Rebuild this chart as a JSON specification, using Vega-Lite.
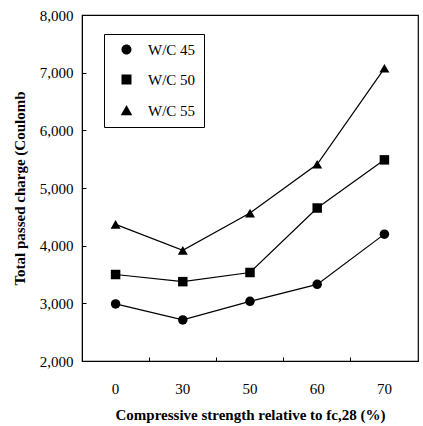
{
  "$schema": "https://vega.github.io/schema/vega-lite/v6.json",
  "autosize": "none",
  "width": 336,
  "height": 346,
  "padding": {"left": 82, "top": 15, "right": 5, "bottom": 65},
  "background": "white",
  "config": {
    "font": "Liberation Serif",
    "view": {"stroke": "black", "strokeWidth": 1.2},
    "axis": {"domainColor": "black", "tickColor": "black", "labelColor": "black", "titleColor": "black", "labelFont": "Liberation Serif", "titleFont": "Liberation Serif", "grid": false}
  },
  "data": {
    "values": [
      {"s": "W/C 45", "x": "0", "y": 2990},
      {"s": "W/C 45", "x": "30", "y": 2712},
      {"s": "W/C 45", "x": "50", "y": 3035},
      {"s": "W/C 45", "x": "60", "y": 3329},
      {"s": "W/C 45", "x": "70", "y": 4200},
      {"s": "W/C 50", "x": "0", "y": 3500},
      {"s": "W/C 50", "x": "30", "y": 3376},
      {"s": "W/C 50", "x": "50", "y": 3535},
      {"s": "W/C 50", "x": "60", "y": 4653},
      {"s": "W/C 50", "x": "70", "y": 5488},
      {"s": "W/C 55", "x": "0", "y": 4370},
      {"s": "W/C 55", "x": "30", "y": 3918},
      {"s": "W/C 55", "x": "50", "y": 4565},
      {"s": "W/C 55", "x": "60", "y": 5412},
      {"s": "W/C 55", "x": "70", "y": 7076}
    ]
  },
  "encoding": {
    "y": {"field": "y", "type": "quantitative", "scale": {"domain": [2000, 8000], "nice": false, "zero": false},
      "axis": {"values": [2000, 3000, 4000, 5000, 6000, 7000, 8000], "format": ",.0f", "tickSize": -4, "labelFontSize": 15, "labelPadding": 13,
        "title": "Total passed charge (Coulomb", "titleFont": "Liberation Serif", "titleFontSize": 15, "titleFontWeight": "bold", "titlePadding": 12}}
  },
  "layer": [
    {
      "mark": {"type": "line", "color": "black", "strokeWidth": 1.2},
      "encoding": {
        "x": {"field": "x", "type": "ordinal", "sort": ["0", "30", "50", "60", "70"],
          "scale": {"type": "band", "paddingInner": 0, "paddingOuter": 0},
          "axis": {"orient": "bottom", "ticks": false, "domain": true, "labelAngle": 0, "labelFontSize": 15, "labelPadding": 20,
            "title": "Compressive strength relative to fc,28 (%)", "titleFont": "Liberation Serif", "titleFontSize": 15, "titleFontWeight": "bold", "titlePadding": 11}},
        "detail": {"field": "s"}
      }
    },
    {
      "transform": [{"filter": "datum.s === 'W/C 45'"}],
      "mark": {"type": "point", "shape": "circle", "filled": true, "color": "black", "opacity": 1, "size": 90},
      "encoding": {
        "x": {"field": "x", "type": "ordinal", "sort": ["0", "30", "50", "60", "70"],
          "axis": {"orient": "bottom", "bandPosition": 0, "labels": false, "title": null, "domain": false, "tickSize": -4, "ticks": true}}
      }
    },
    {
      "transform": [{"filter": "datum.s === 'W/C 50'"}],
      "mark": {"type": "point", "shape": "square", "filled": true, "color": "black", "opacity": 1, "size": 90},
      "encoding": {
        "x": {"field": "x", "type": "ordinal", "sort": ["0", "30", "50", "60", "70"], "axis": null}
      }
    },
    {
      "transform": [{"filter": "datum.s === 'W/C 55'"}],
      "mark": {"type": "point", "shape": "triangle-up", "filled": true, "color": "black", "opacity": 1, "size": 100},
      "encoding": {
        "x": {"field": "x", "type": "ordinal", "sort": ["0", "30", "50", "60", "70"], "axis": null}
      }
    },
    {
      "mark": {"type": "point", "filled": false, "stroke": "black", "fill": "black", "opacity": 0, "size": 100, "strokeWidth": 1.2},
      "encoding": {
        "x": {"field": "x", "type": "ordinal", "sort": ["0", "30", "50", "60", "70"], "axis": null},
        "shape": {"field": "s", "type": "nominal",
          "scale": {"range": ["M-2.8,0L2.8,0M1,0A1,1,0,1,1,-1,0A1,1,0,1,1,1,0Z", "M-2.8,0L2.8,0M-1,-1L1,-1L1,1L-1,1Z", "M-2.8,0.3L2.8,0.3M0,-1.1L1.15,0.95L-1.15,0.95Z"]},
          "legend": {"orient": "none", "legendX": 22, "legendY": 19, "title": null, "strokeColor": "black", "padding": 8,
            "labelFont": "Liberation Serif", "labelFontSize": 15, "labelColor": "black", "symbolSize": 100, "symbolOffset": 7, "rowPadding": 14, "labelOffset": 14,
            "symbolOpacity": 1, "symbolFillColor": "black", "symbolStrokeColor": "black", "symbolStrokeWidth": 1.2}}
      }
    }
  ],
  "resolve": {"axis": {"x": "independent"}}
}
